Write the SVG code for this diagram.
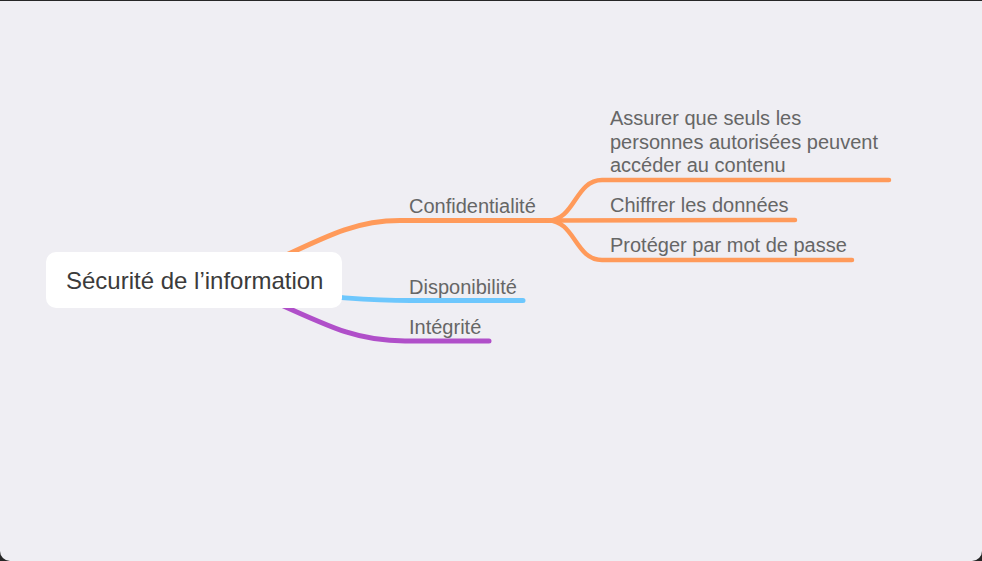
<svg xmlns="http://www.w3.org/2000/svg" width="982" height="561" viewBox="0 0 982 561">
<style>
.bg{fill:#EFEEF3}
.link{fill:none;stroke-linecap:round;stroke-linejoin:round}
.o{stroke:#FF9A5A}
.b{stroke:#6DC7FD}
.p{stroke:#B04FC9}
.lbl{font-family:"Liberation Sans",Arial,sans-serif;font-size:20px;fill:#666666}
.root{font-family:"Liberation Sans",Arial,sans-serif;font-size:24px;fill:#3B3B3B}
</style>
<rect x="0" y="0" width="982" height="561" fill="#262626"/>
<path class="bg" d="M0 1 H982 V551 A10 10 0 0 1 972 561 H10 A10 10 0 0 1 0 551 Z"/>
<g id="connectors">
<path class="link o" stroke-width="5" d="M250 272 C320 240 350 220.5 400 220.5 L548 220.5"/>
<path class="link b" stroke-width="5" d="M250 290 C330 297 370 300.5 410 300.5 L523 300.5"/>
<path class="link p" stroke-width="5" d="M255 293 C330 327 355 341 405 341 L489 341"/>
<path class="link o" stroke-width="4.5" d="M548 220.5 C575 220.5 575 180 602 180 L889 180"/>
<path class="link o" stroke-width="4.5" d="M548 220.5 L795 220"/>
<path class="link o" stroke-width="4.5" d="M548 220.5 C575 220.5 575 260 602 260 L852 260"/>
</g>
<g id="root">
<rect x="46" y="252" width="296" height="56" rx="10" fill="#FFFFFF"/>
<text class="root" x="66" y="289">Sécurité de l’information</text>
</g>
<g id="confidentialite"><text class="lbl" x="409" y="213">Confidentialité</text></g>
<g id="disponibilite"><text class="lbl" x="409" y="294">Disponibilité</text></g>
<g id="integrite"><text class="lbl" x="409" y="334">Intégrité</text></g>
<g id="assurer"><text class="lbl" x="610"><tspan x="610" y="125">Assurer que seuls les</tspan><tspan x="610" y="148.5">personnes autorisées peuvent</tspan><tspan x="610" y="172">accéder au contenu</tspan></text></g>
<g id="chiffrer"><text class="lbl" x="610" y="212">Chiffrer les données</text></g>
<g id="proteger"><text class="lbl" x="610" y="252">Protéger par mot de passe</text></g>
</svg>
